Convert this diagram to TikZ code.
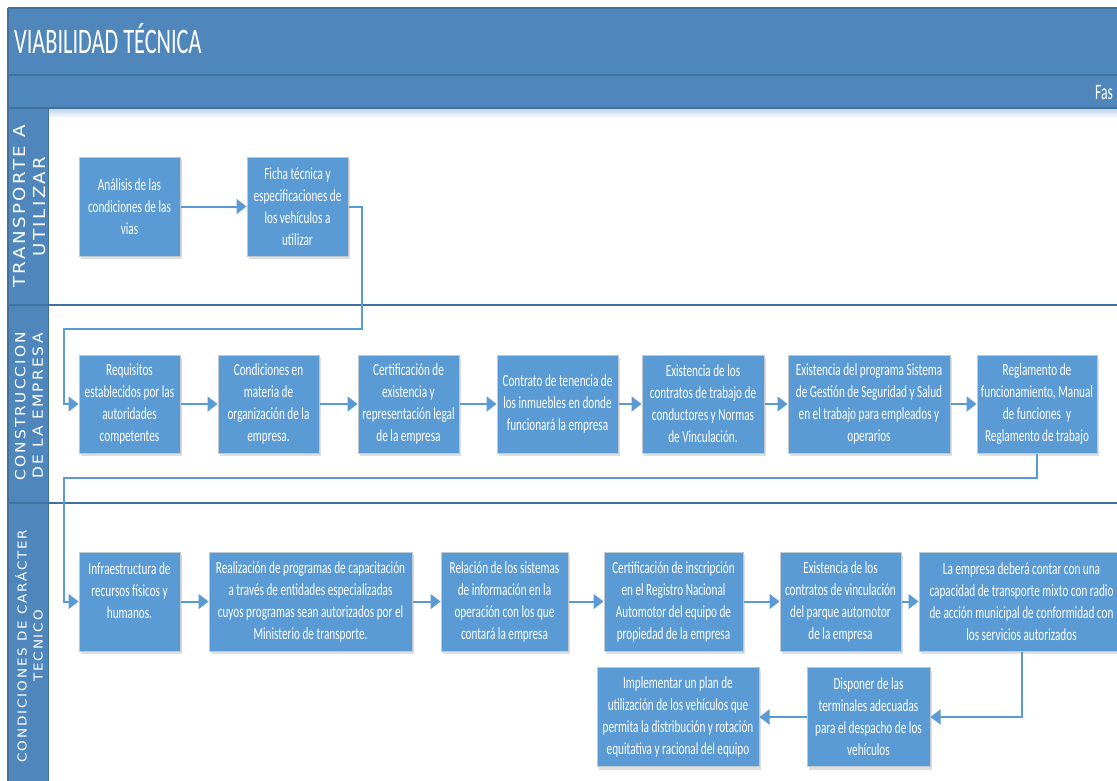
\documentclass[tikz,border=0pt]{standalone}
\usepackage{fontspec}
\usetikzlibrary{shadows,arrows.meta}
\newfontfamily\boxfont[FakeStretch=0.66]{Carlito}
\newfontfamily\ttlfont[FakeStretch=0.62]{Carlito}
\newfontfamily\lanefont[LetterSpace=15,FakeStretch=1.1]{DejaVu Sans}
\definecolor{bandblue}{RGB}{79,135,189}
\definecolor{framedark}{RGB}{65,113,156}
\definecolor{boxfill}{RGB}{91,155,213}
\definecolor{boxborder}{RGB}{192,200,208}
\definecolor{arrowc}{RGB}{91,155,213}
\tikzset{
  stepbox/.style={draw=boxborder, fill=boxfill, line width=1pt, text=white,
    font=\boxfont\fontsize{17}{22}\selectfont, align=center, inner sep=0pt,
    drop shadow={shadow xshift=2pt, shadow yshift=-3pt, opacity=0.25, fill=black!50}},
  flow/.style={draw=arrowc, line width=2pt, -{Triangle[length=10pt,width=15pt]}},
  frameline/.style={draw=framedark, line width=1.6pt},
  lanelabel/.style={rotate=90, text=white, align=center, inner sep=0pt}
}
\begin{document}
\begin{tikzpicture}[x=1pt,y=-1pt]
\useasboundingbox (0,0) rectangle (1117,780);
\clip (0,0) rectangle (1117,780);
% header bands and lane column
\fill[bandblue] (8,8) rectangle (1130,108);
\fill[bandblue] (8,108) rectangle (48,800);
\shade[top color=bandblue!35, bottom color=white] (48,109) rectangle (1130,118);
\draw[frameline] (8,8) -- (1130,8);
\draw[frameline] (8,8) -- (8,800);
\draw[frameline] (8,75) -- (1130,75);
\draw[frameline] (8,108) -- (1130,108);
\draw[draw=framedark, line width=0.8pt] (48,108) -- (48,800);
\draw[frameline] (8,305) -- (1130,305);
\draw[frameline] (8,503) -- (1130,503);
% title texts
\node[anchor=base west, text=white, inner sep=0pt, font=\ttlfont\fontsize{36}{40}\selectfont] (title) at (14,53) {VIABILIDAD TÉCNICA};
\node[anchor=base west, text=white, inner sep=0pt, font=\ttlfont\fontsize{22}{26}\selectfont] (fase) at (1095,99) {Fas};
% lane labels
\node[lanelabel, font=\lanefont\fontsize{16.5}{20}\selectfont] (L1) at (29,206.5) {TRANSPORTE A\\UTILIZAR};
\node[lanelabel, font=\lanefont\fontsize{14}{17.5}\selectfont] (L2) at (29,406) {CONSTRUCCION\\DE LA EMPRESA};
\node[lanelabel, font=\lanefont\fontsize{12.3}{16}\selectfont] (L3) at (29,646) {CONDICIONES DE CARÁCTER\\TECNICO};
% lane 1 boxes
\node[stepbox, minimum width=101pt, minimum height=99pt] (A1) at (129.5,206.5) {Análisis de las\\condiciones de las\\vias};
\node[stepbox, minimum width=101pt, minimum height=99pt] (A2) at (297.5,206.5) {Ficha técnica y\\especificaciones de\\los vehículos a\\utilizar};
% lane 2 boxes
\node[stepbox, minimum width=101pt, minimum height=98pt] (B1) at (129.5,404) {Requisitos\\establecidos por las\\autoridades\\competentes};
\node[stepbox, minimum width=101pt, minimum height=98pt] (B2) at (268.5,404) {Condiciones en\\materia de\\organización de la\\empresa.};
\node[stepbox, minimum width=101pt, minimum height=98pt] (B3) at (408.5,404) {Certificación de\\existencia y\\representación legal\\de la empresa};
\node[stepbox, minimum width=121pt, minimum height=98pt] (B4) at (557.5,404) {Contrato de tenencia de\\los inmuebles en donde\\funcionará la empresa};
\node[stepbox, minimum width=122pt, minimum height=98pt] (B5) at (703,404) {Existencia de los\\contratos de trabajo de\\conductores y Normas\\de Vinculación.};
\node[stepbox, minimum width=162pt, minimum height=98pt] (B6) at (869,404) {Existencia del programa Sistema\\de Gestión de Seguridad y Salud\\en el trabajo para empleados y\\operarios};
\node[stepbox, minimum width=120pt, minimum height=98pt] (B7) at (1037,404) {Reglamento de\\funcionamiento, Manual\\de funciones~ y\\Reglamento de trabajo};
% lane 3 boxes
\node[stepbox, minimum width=101pt, minimum height=99pt] (C1) at (129.5,601.5) {Infraestructura de\\recursos físicos y\\humanos.\\~};
\node[stepbox, minimum width=203pt, minimum height=99pt] (C2) at (310.5,601.5) {Realización de programas de capacitación\\a través de entidades especializadas\\cuyos programas sean autorizados por el\\Ministerio de transporte.};
\node[stepbox, minimum width=127pt, minimum height=99pt] (C3) at (504.5,601.5) {Relación de los sistemas\\de información en la\\operación con los que\\contará la empresa};
\node[stepbox, minimum width=139pt, minimum height=99pt] (C4) at (673.5,601.5) {Certificación de inscripción\\en el Registro Nacional\\Automotor del equipo de\\propiedad de la empresa};
\node[stepbox, minimum width=121pt, minimum height=99pt] (C5) at (840.5,601.5) {Existencia de los\\contratos de vinculación\\del parque automotor\\de la empresa};
\node[stepbox, minimum width=205pt, minimum height=99pt] (C6) at (1021.5,601.5) {La empresa deberá contar con una\\capacidad de transporte mixto con radio\\de acción municipal de conformidad con\\los servicios autorizados};
\node[stepbox, minimum width=123pt, minimum height=99pt] (D1) at (868.5,717) {Disponer de las\\terminales adecuadas\\para el despacho de los\\vehículos};
\node[stepbox, minimum width=162pt, minimum height=99pt] (D2) at (678,717) {Implementar un plan de\\utilización de los vehículos que\\permita la distribución y rotación\\equitativa y racional del equipo};
% routing coordinates
\coordinate (k1) at (362,329);
\coordinate (k2) at (64,329);
\coordinate (k3) at (64,478);
% connectors
\draw[flow] (A1) -- (A2);
\draw[flow] (A2.east) -| (k1) -- (k2) |- (B1.west);
\draw[flow] (B1) -- (B2);
\draw[flow] (B2) -- (B3);
\draw[flow] (B3) -- (B4);
\draw[flow] (B4) -- (B5);
\draw[flow] (B5) -- (B6);
\draw[flow] (B6) -- (B7);
\draw[flow] (B7.south) |- (k3) |- (C1.west);
\draw[flow] (C1) -- (C2);
\draw[flow] (C2) -- (C3);
\draw[flow] (C3) -- (C4);
\draw[flow] (C4) -- (C5);
\draw[flow] (C5) -- (C6);
\draw[flow] (C6.south) |- (D1.east);
\draw[flow] (D1) -- (D2);
\end{tikzpicture}
\end{document}
